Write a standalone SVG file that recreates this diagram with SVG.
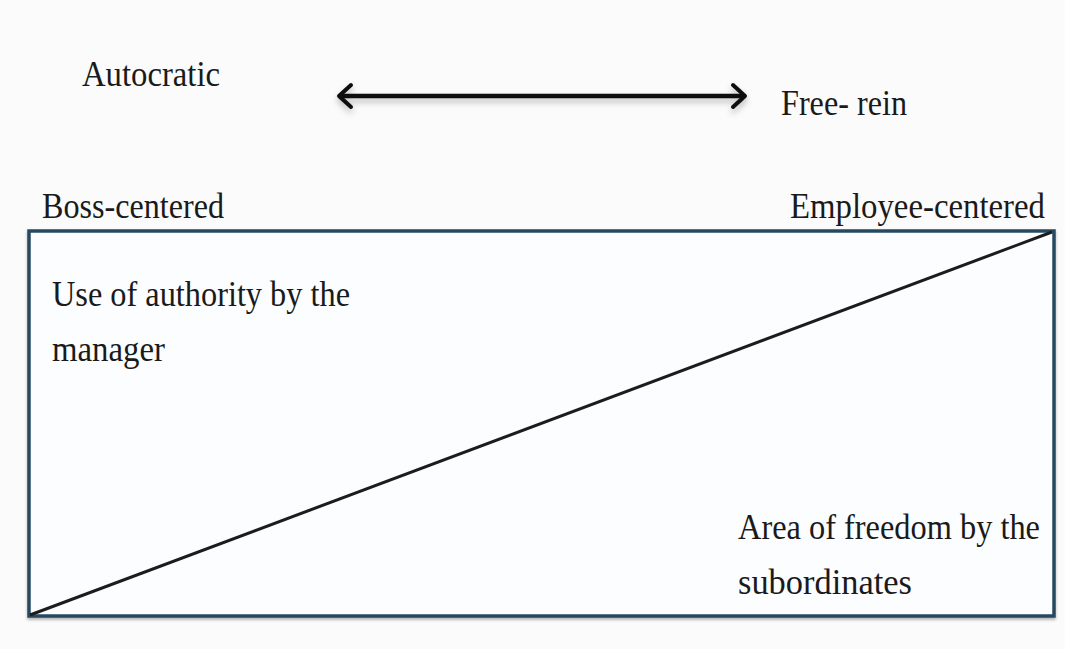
<svg xmlns="http://www.w3.org/2000/svg" width="1065" height="649" viewBox="0 0 1065 649">
  <defs>
    <style>
      .t { font-family: "Liberation Serif", "DejaVu Serif", serif; font-size: 35px; fill: #1a1a1a; }
      .box { fill: #fcfdfe; stroke: #284a62; stroke-width: 3.5; }
      .diag { stroke: #1c1c1c; stroke-width: 3; fill: none; }
      .arrow { stroke: #111; stroke-width: 4.5; fill: none; }
      .head { stroke: #111; stroke-width: 4; fill: none; stroke-linecap: round; stroke-linejoin: round; }
    </style>
    <filter id="sh" x="-5%" y="-50%" width="110%" height="250%">
      <feDropShadow dx="0" dy="4" stdDeviation="3" flood-color="#000" flood-opacity="0.25"/>
    </filter>
    <filter id="sh2" x="-5%" y="-5%" width="110%" height="110%">
      <feDropShadow dx="0" dy="2" stdDeviation="1.5" flood-color="#000" flood-opacity="0.3"/>
    </filter>
  </defs>
  <rect width="1065" height="649" fill="#fbfbfb"/>

  <g id="autocratic"><text class="t" x="82" y="86" textLength="138" lengthAdjust="spacingAndGlyphs">Autocratic</text></g>
  <g id="free-rein"><text class="t" x="781" y="115" textLength="126" lengthAdjust="spacingAndGlyphs">Free- rein</text></g>
  <g id="boss-centered"><text class="t" x="42" y="218" textLength="182" lengthAdjust="spacingAndGlyphs">Boss-centered</text></g>
  <g id="employee-centered"><text class="t" x="790" y="218" textLength="255" lengthAdjust="spacingAndGlyphs">Employee-centered</text></g>

  <g id="box">
    <rect class="box" x="29" y="231" width="1025" height="385" filter="url(#sh2)"/>
  </g>

  <g id="connectors">
    <g id="scale-arrow" filter="url(#sh)">
      <line class="arrow" x1="341" y1="96" x2="743" y2="96"/>
      <polyline class="head" points="351,85 339,96 351,107"/>
      <polyline class="head" points="733,85 745,96 733,107"/>
    </g>
    <line id="diagonal" class="diag" x1="30" y1="615" x2="1052" y2="232"/>
  </g>

  <g id="manager-area">
    <text class="t" x="52" y="306" textLength="298" lengthAdjust="spacingAndGlyphs">Use of authority by the</text>
    <text class="t" x="52" y="361" textLength="113" lengthAdjust="spacingAndGlyphs">manager</text>
  </g>
  <g id="subordinate-area">
    <text class="t" x="738" y="539" textLength="302" lengthAdjust="spacingAndGlyphs">Area of freedom by the</text>
    <text class="t" x="738" y="594" textLength="174" lengthAdjust="spacingAndGlyphs">subordinates</text>
  </g>
</svg>
